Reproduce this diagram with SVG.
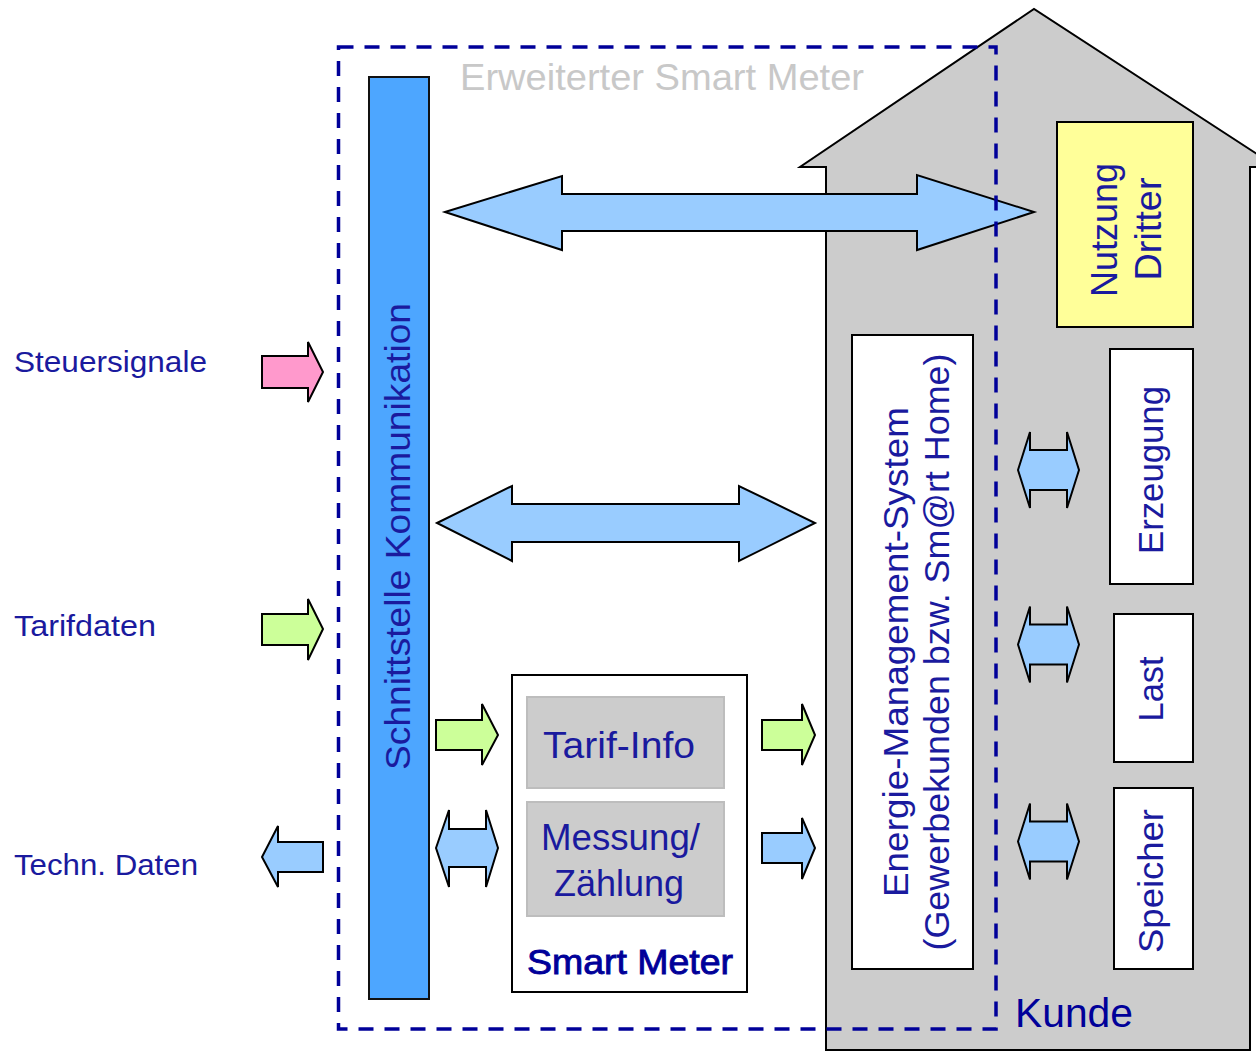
<svg xmlns="http://www.w3.org/2000/svg" xmlns:xlink="http://www.w3.org/1999/xlink" width="1256" height="1052" viewBox="0 0 1256 1052">
<style>
text{font-family:"Liberation Sans","DejaVu Sans",sans-serif;fill:#1a1a9e}
.lbl{font-size:30px}
.dark{fill:#000099}
.arr{stroke:#000;stroke-width:2;stroke-linejoin:miter}
.blue{fill:#99ccff}
.green{fill:#ccff99}
.pink{fill:#ff99cc}
.box{fill:#fff;stroke:#000;stroke-width:2}
.gbox{fill:#cccccc;stroke:#bdbdbd;stroke-width:2}
</style>
<defs>
<polygon id="dbl" points="0,0 12,-38 12,-20 49,-20 49,-38 61,0 49,38 49,20 12,20 12,38"/>
</defs>
<rect width="1256" height="1052" fill="#fff"/>

<g id="kunde">
<polygon points="826,1050 826,167 800,167 1034,9 1277,167 1250,167 1250,1050" fill="#cccccc" stroke="#000" stroke-width="2"/>
<text x="1015" y="1027" class="dark" font-size="41" textLength="118" lengthAdjust="spacingAndGlyphs">Kunde</text>
</g>

<g id="nutzung-dritter">
<rect x="1057" y="122" width="136" height="205" fill="#ffff99" stroke="#000" stroke-width="2"/>
<text transform="translate(1117,230) rotate(-90)" font-size="37" text-anchor="middle" textLength="134" lengthAdjust="spacingAndGlyphs">Nutzung</text>
<text transform="translate(1161,229) rotate(-90)" font-size="37" text-anchor="middle" textLength="103" lengthAdjust="spacingAndGlyphs">Dritter</text>
</g>

<g id="erzeugung">
<rect x="1110" y="349" width="83" height="235" class="box"/>
<text transform="translate(1163,470) rotate(-90)" font-size="35" text-anchor="middle" textLength="168" lengthAdjust="spacingAndGlyphs">Erzeugung</text>
</g>
<g id="last">
<rect x="1114" y="614" width="79" height="148" class="box"/>
<text transform="translate(1163,689) rotate(-90)" font-size="35" text-anchor="middle" textLength="65" lengthAdjust="spacingAndGlyphs">Last</text>
</g>
<g id="speicher">
<rect x="1114" y="788" width="79" height="181" class="box"/>
<text transform="translate(1163,881) rotate(-90)" font-size="35" text-anchor="middle" textLength="144" lengthAdjust="spacingAndGlyphs">Speicher</text>
</g>

<g id="ems">
<rect x="852" y="335" width="121" height="634" class="box"/>
<text transform="translate(908,652) rotate(-90)" font-size="35" text-anchor="middle" textLength="490" lengthAdjust="spacingAndGlyphs">Energie-Management-System</text>
<text transform="translate(949,652) rotate(-90)" font-size="35" text-anchor="middle" textLength="597" lengthAdjust="spacingAndGlyphs">(Gewerbekunden bzw. Sm@rt Home)</text>
</g>

<g id="schnittstelle">
<rect x="369" y="77" width="60" height="922" fill="#4da6ff" stroke="#111" stroke-width="2"/>
<text transform="translate(410,536.5) rotate(-90)" font-size="35" text-anchor="middle" textLength="467" lengthAdjust="spacingAndGlyphs">Schnittstelle Kommunikation</text>
</g>

<g id="smart-meter">
<rect x="512" y="675" width="235" height="317" class="box"/>
<rect x="527" y="697" width="197" height="91" class="gbox"/>
<rect x="527" y="802" width="197" height="114" class="gbox"/>
<text x="543" y="758" font-size="36" textLength="152" lengthAdjust="spacingAndGlyphs">Tarif-Info</text>
<text x="541" y="850" font-size="36" textLength="159" lengthAdjust="spacingAndGlyphs">Messung/</text>
<text x="554" y="896" font-size="36" textLength="130" lengthAdjust="spacingAndGlyphs">Zählung</text>
<text x="527" y="974" class="dark" font-size="35" stroke="#000099" stroke-width="0.9" textLength="206" lengthAdjust="spacingAndGlyphs">Smart Meter</text>
</g>

<g id="labels">
<text x="14" y="372" class="lbl" textLength="193" lengthAdjust="spacingAndGlyphs">Steuersignale</text>
<text x="14" y="636" class="lbl" textLength="142" lengthAdjust="spacingAndGlyphs">Tarifdaten</text>
<text x="14" y="875" class="lbl" textLength="184" lengthAdjust="spacingAndGlyphs">Techn. Daten</text>
</g>

<g id="connectors">
<polygon class="arr blue" stroke-width="1.5" points="445,212 562,176 562,194 917,194 917,175 1034,212 917,250 917,231 562,231 562,250"/>
<polygon class="arr blue" stroke-width="1.5" points="437,523 512,486 512,504 739,504 739,486 815,523 739,561 739,542 512,542 512,561"/>
<polygon class="arr pink" points="262,356 308,356 308,342 323,372 308,402 308,388 262,388"/>
<polygon class="arr green" points="262,614 308,614 308,599 323,629 308,660 308,645 262,645"/>
<polygon class="arr blue" points="323,842 278,842 278,826 262,857 278,887 278,872 323,872"/>
<polygon class="arr green" points="436,720 482,720 482,704 498,735 482,765 482,750 436,750"/>
<polygon class="arr blue" points="436,848 449,810 449,829 486,829 486,810 498,848 486,887 486,867 449,867 449,887"/>
<polygon class="arr green" points="762,720 802,720 802,704 815,735 802,765 802,750 762,750"/>
<polygon class="arr blue" points="762,833 802,833 802,818 815,848 802,879 802,863 762,863"/>
<use xlink:href="#dbl" href="#dbl" x="1018" y="470" class="arr blue"/>
<use xlink:href="#dbl" href="#dbl" x="1018" y="644.5" class="arr blue"/>
<use xlink:href="#dbl" href="#dbl" x="1018" y="841.5" class="arr blue"/>
</g>

<g id="erweiterter-smart-meter">
<rect x="338.5" y="47" width="657.5" height="982" fill="none" stroke="#000099" stroke-width="3.5" stroke-dasharray="15 11"/>
<text x="460" y="90" font-size="36" style="fill:#c8c8c8" textLength="404" lengthAdjust="spacingAndGlyphs">Erweiterter Smart Meter</text>
</g>
</svg>
